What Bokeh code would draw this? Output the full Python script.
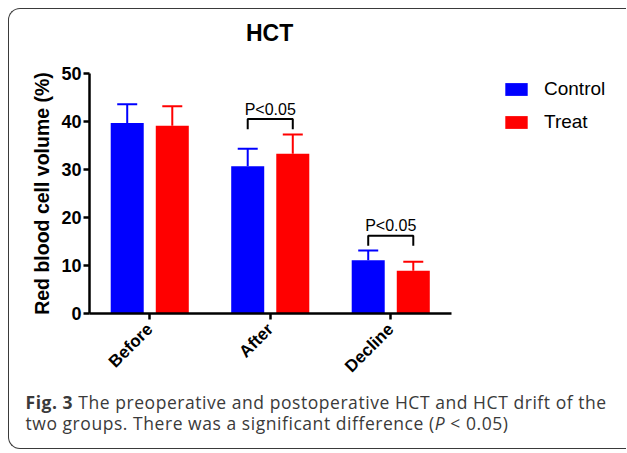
from math import pi
from bokeh.plotting import figure
from bokeh.layouts import column
from bokeh.models import (ColumnDataSource, Range1d, FixedTicker, Whisker, TeeHead,
                          Legend, LegendItem, Div)
from bokeh.embed import file_html
from bokeh.resources import INLINE
from bokeh.core.properties import value

# ---------------- data ----------------
categories = ["Before", "After", "Decline"]
control_mean = [39.7, 30.7, 11.1]
control_sd = [3.9, 3.6, 2.0]
treat_mean = [39.1, 33.3, 8.9]
treat_sd = [4.1, 4.0, 1.9]
y_ticks = [0, 10, 20, 30, 40, 50]
sig_groups = [1, 2]
sig_bracket_y = [40.5, 16.2]
sig_drop = 2.1
sig_label_y = [42.5, 18.3]
sig_labels = ["P<0.05", "P<0.05"]

# ---------------- geometry/style ----------------
OFF = 0.187
BW = 0.274
BLUE = "#0000FF"
RED = "#FF0000"
AX = "Liberation Sans"

xs = list(range(len(categories)))
ctrl = ColumnDataSource(dict(
    x=[i - OFF for i in xs], top=control_mean,
    upper=[m + s for m, s in zip(control_mean, control_sd)]))
trt = ColumnDataSource(dict(
    x=[i + OFF for i in xs], top=treat_mean,
    upper=[m + s for m, s in zip(treat_mean, treat_sd)]))

W, H = 617, 323
FL, FT, FH = 80, 10, 240
PX_PER_CAT = 120.5
x_lo = -0.5
x_axis_hi = len(categories) - 0.5
x_hi = x_lo + (W - FL) / PX_PER_CAT     # frame runs on to hold the legend

p = figure(width=W, height=H, output_backend="svg", toolbar_location=None,
           x_range=Range1d(x_lo, x_hi), y_range=Range1d(0, 50),
           min_border_left=FL, min_border_right=0,
           min_border_top=FT, min_border_bottom=H - FT - FH)
p.outline_line_color = None
p.grid.visible = False
p.background_fill_color = "white"

# bars
r_c = p.vbar(x="x", top="top", width=BW, source=ctrl, fill_color=BLUE, line_color=None)
r_t = p.vbar(x="x", top="top", width=BW, source=trt, fill_color=RED, line_color=None)

# error bars (upper only)
for src, col in ((ctrl, BLUE), (trt, RED)):
    w = Whisker(base="x", lower="top", upper="upper", source=src, dimension="height",
                line_color=col, line_width=2,
                upper_head=TeeHead(size=20, line_color=col, line_width=2),
                lower_head=None)
    p.add_layout(w)

# significance brackets
bx, by = [], []
for g, b in zip(sig_groups, sig_bracket_y):
    bx.append([g - OFF, g - OFF, g + OFF, g + OFF])
    by.append([b - sig_drop, b, b, b - sig_drop])
p.multi_line(bx, by, line_color="black", line_width=2)
p.text(x=sig_groups, y=sig_label_y, text=sig_labels, text_align="center",
       text_baseline="alphabetic", text_font=value(AX), text_font_size="16px",
       text_color="black")

# axes
for ax in (p.xaxis[0], p.yaxis[0]):
    ax.axis_line_width = 2.5
    ax.axis_line_color = "black"
    ax.major_tick_line_width = 2.5
    ax.major_tick_line_color = "black"
    ax.major_tick_out = 6
    ax.major_tick_in = 0
    ax.minor_tick_line_color = None
    ax.major_label_text_font = AX
    ax.major_label_text_font_style = "bold"
    ax.major_label_text_color = "black"

p.yaxis.ticker = FixedTicker(ticks=y_ticks)
p.yaxis.major_label_text_font_size = "18px"
p.yaxis.major_label_standoff = 2
p.yaxis.axis_label = "Red blood cell volume (%)"
p.yaxis.axis_label_text_font = AX
p.yaxis.axis_label_text_font_style = "bold"
p.yaxis.axis_label_text_font_size = "19.5px"
p.yaxis.axis_label_text_color = "black"
p.yaxis.axis_label_standoff = 5

p.xaxis.ticker = FixedTicker(ticks=xs)
p.xaxis.bounds = (x_lo, x_axis_hi)
p.xaxis.major_label_overrides = {i: c for i, c in zip(xs, categories)}
p.xaxis.major_label_orientation = pi / 4
p.xaxis.major_label_text_font_size = "17px"
p.xaxis.major_label_standoff = 7

# legend
legend = Legend(items=[LegendItem(label="Control", renderers=[r_c]),
                       LegendItem(label="Treat", renderers=[r_t])],
                location=(413, 180), glyph_width=28, glyph_height=16,
                label_height=16, spacing=11, padding=0, margin=0,
                label_standoff=14, border_line_color=None,
                background_fill_alpha=0, label_text_font=AX,
                label_text_font_size="19px", label_text_color="black")
p.add_layout(legend, "center")

# chart title
title = Div(
    text=("<div style=\"font-family:'Liberation Sans'; font-weight:bold; font-size:23px; "
          "line-height:26px; color:black; white-space:nowrap; padding-left:237px; "
          "padding-top:11px\">HCT</div>"),
    width=W, height=54, margin=0)

# caption
caption = Div(
    text=("<div style=\"font-family:'Open Sans'; font-size:17.5px; line-height:21px; "
          "letter-spacing:0.55px; color:#3a3a3a; white-space:nowrap; padding-left:16.5px; "
          "padding-top:6px\"><b style='font-weight:700'>Fig. 3</b> The preoperative and "
          "postoperative HCT and HCT drift of the<br>two groups. There was a significant "
          "difference (<i>P</i> &lt; 0.05)</div>"),
    width=W, height=62, margin=0)

root = column(title, p, caption, spacing=0,
              styles={"margin-left": "8px", "margin-top": "8px",
                      "border-left": "1.5px solid #3a3a3a",
                      "border-top": "1.5px solid #3a3a3a",
                      "border-bottom": "1.5px solid #3a3a3a",
                      "border-top-left-radius": "12px",
                      "border-bottom-left-radius": "12px"})

open("out.html", "w").write(file_html(root, INLINE))
